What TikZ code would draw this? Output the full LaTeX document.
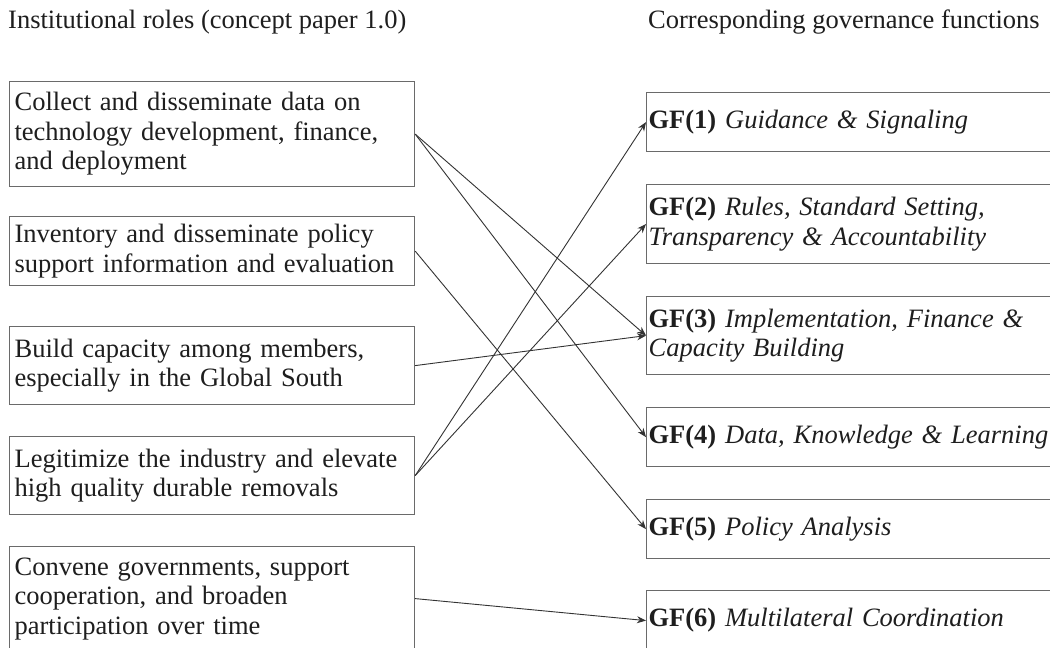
\documentclass[tikz,border=0pt]{standalone}
\usepackage{fontspec}
\setmainfont{Liberation Serif}
\usetikzlibrary{arrows.meta}
\definecolor{boxgray}{HTML}{6A6A6A}
\definecolor{linegray}{HTML}{333333}
\definecolor{txt}{HTML}{1E1E1E}
\tikzset{
  txtfont/.style={font=\fontsize{26.5}{29.5}\selectfont, text=txt},
  rolebox/.style={draw=boxgray, line width=1.2pt, rectangle, anchor=north west,
    minimum width=405pt, text width=395pt, inner xsep=5pt, inner ysep=0pt,
    align=left, txtfont},
  gfbox/.style={draw=boxgray, line width=1.2pt, rectangle, anchor=north west,
    minimum width=430pt, text width=426pt, inner xsep=2pt, inner ysep=0pt,
    align=left, txtfont},
  heading/.style={anchor=base west, inner sep=0pt, txtfont},
  link/.style={draw=linegray, line width=0.9pt, -{Stealth[length=9pt,width=7pt]}}
}
\begin{document}
\begin{tikzpicture}[x=1pt,y=-1pt]
\useasboundingbox (0,0) rectangle (1050,648);
\clip (0,0) rectangle (1050,648);
\fill[white] (0,0) rectangle (1050,648);

\node[heading] (h1) at (8,28) {Institutional roles (concept paper 1.0)};
\node[heading] (h2) at (648,28) {Corresponding governance functions};

\node[rolebox, minimum height=105pt] (l1) at (9,81)
  {Collect and disseminate data on\\technology development, finance,\\and deployment};
\node[rolebox, minimum height=69pt] (l2) at (9,216)
  {Inventory and disseminate policy\\support information and evaluation};
\node[rolebox, minimum height=78pt] (l3) at (9,326)
  {Build capacity among members,\\especially in the Global South};
\node[rolebox, minimum height=78pt] (l4) at (9,436)
  {Legitimize the industry and elevate\\high quality durable removals};
\node[rolebox, minimum height=104pt] (l5) at (9,546)
  {Convene governments, support\\cooperation, and broaden\\participation over time};

\node[gfbox, minimum height=59pt] (r1) at (646,92)
  {\textbf{GF(1)} \textit{Guidance \& Signaling}};
\node[gfbox, minimum height=79pt] (r2) at (646,184)
  {\textbf{GF(2)} \textit{Rules, Standard Setting,}\\\textit{Transparency \& Accountability}};
\node[gfbox, minimum height=78pt] (r3) at (646,296)
  {\textbf{GF(3)} \textit{Implementation, Finance \&}\\\textit{Capacity Building}};
\node[gfbox, minimum height=59pt] (r4) at (646,407)
  {\textbf{GF(4)} \textit{Data, Knowledge \& Learning}};
\node[gfbox, minimum height=59pt] (r5) at (646,499)
  {\textbf{GF(5)} \textit{Policy Analysis}};
\node[gfbox, minimum height=60pt] (r6) at (646,590)
  {\textbf{GF(6)} \textit{Multilateral Coordination}};

\draw[link] (l1.east) -- (r3.west);
\draw[link] (l1.east) -- (r4.west);
\draw[link] (l2.east) -- (r5.west);
\draw[link] (l3.east) -- (r3.west);
\draw[link] (l4.east) -- (r1.west);
\draw[link] (l4.east) -- (r2.west);
\draw[link] (l5.east) -- (r6.west);
\end{tikzpicture}
\end{document}
